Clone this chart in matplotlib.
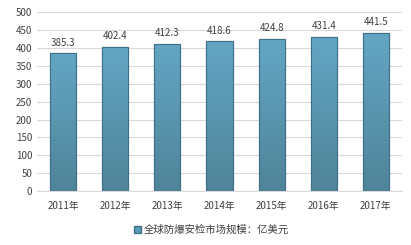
import numpy as np
import matplotlib.pyplot as plt
from matplotlib.patches import Patch
from matplotlib.colors import LinearSegmentedColormap

plt.rcParams['font.family'] = ['Noto Sans CJK SC', 'DejaVu Sans']

years = ['2011年', '2012年', '2013年', '2014年', '2015年', '2016年', '2017年']
values = [385.3, 402.4, 412.3, 418.6, 424.8, 431.4, 441.5]
series_name = '全球防爆安检市场规模：亿美元'

fig = plt.figure(figsize=(4.11, 2.45), dpi=100)
ax = fig.add_axes([0.09, 0.22, 0.888, 0.73])

x = np.arange(len(years))
bars = ax.bar(x, values, width=0.5, color='#5a9bb6', edgecolor='#3f6f86',
              linewidth=0.8, zorder=3)

# vertical gradient inside each bar (lighter on top, darker below)
grad = np.linspace(0, 1, 256).reshape(-1, 1)
cmap = LinearSegmentedColormap.from_list('bar', ['#4f8499', '#63a6c4'])
for b in bars:
    x0, w, h = b.get_x(), b.get_width(), b.get_height()
    im = ax.imshow(grad, extent=(x0, x0 + w, 0, h), origin='lower',
                   cmap=cmap, aspect='auto', zorder=3.5)
    im.set_clip_path(b)
    b.set_facecolor('none')
    ax.add_patch(plt.Rectangle((x0, 0), w, h, fill=False,
                               edgecolor='#3f6f86', linewidth=0.8, zorder=4))

for xi, v in zip(x, values):
    ax.text(xi, v + 16, f'{v:.1f}', ha='center', va='bottom',
            fontsize=7, color='#404040')

ax.set_xlim(-0.5, len(years) - 0.5)
ax.set_ylim(0, 500)
ax.set_yticks(range(0, 501, 50))
ax.set_xticks(x)
ax.set_xticklabels(years)
ax.tick_params(axis='both', length=0, labelsize=7, colors='#404040')
ax.tick_params(axis='x', pad=7)
ax.grid(axis='y', color='#d9d9d9', linewidth=0.8, zorder=0)
for s in ['top', 'right', 'left']:
    ax.spines[s].set_visible(False)
ax.spines['bottom'].set_color('#d9d9d9')

fig.legend(handles=[Patch(facecolor='#5a9bb6', edgecolor='#3f6f86')],
           labels=[series_name], loc='center', bbox_to_anchor=(0.515, 0.062),
           frameon=False, fontsize=7.5, handlelength=0.7, handleheight=0.7,
           handletextpad=0.3, labelcolor='#404040')

fig.savefig('out.png', dpi=100)
